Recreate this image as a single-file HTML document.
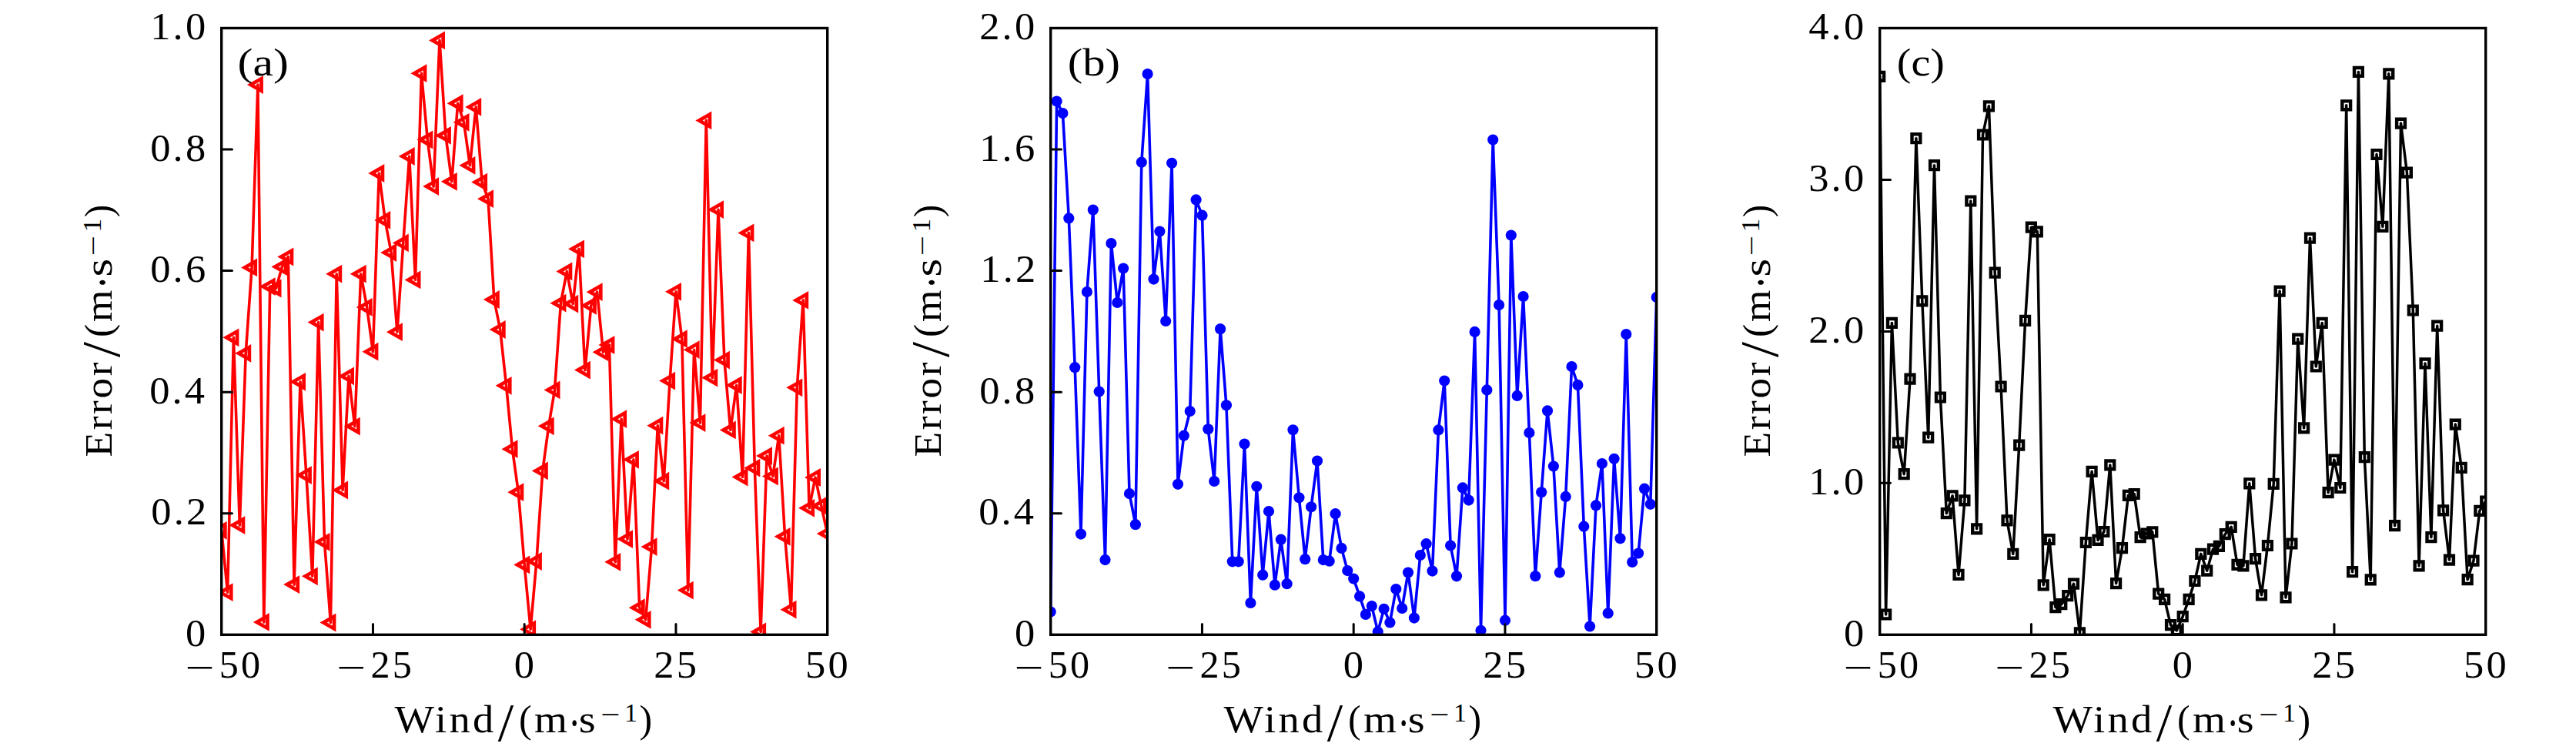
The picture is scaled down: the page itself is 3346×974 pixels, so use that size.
<!DOCTYPE html>
<html><head><meta charset="utf-8"><title>Error vs Wind</title>
<style>html,body{margin:0;padding:0;background:#fff}body{width:3346px;height:974px;overflow:hidden}svg{display:block}</style>
</head><body>
<svg width="3346" height="974" viewBox="0 0 3346 974" font-family='"Liberation Serif", "DejaVu Serif", serif'>
<rect width="3346" height="974" fill="#fff"/>
<defs>
<clipPath id="cp0"><rect x="287.70" y="36.50" width="787.00" height="788.40"/></clipPath>
<clipPath id="cp1"><rect x="1364.70" y="36.50" width="787.00" height="788.40"/></clipPath>
<clipPath id="cp2"><rect x="2441.70" y="36.50" width="787.00" height="788.40"/></clipPath>
<path id="mt" fill-rule="evenodd" d="M-14,0L7,-11.9L7,11.9ZM-4.6,0L2.3,-4L2.3,4Z"/>
<circle id="mc" r="7.1"/>
<path id="ms" fill-rule="evenodd" d="M-7.6,-7.6H7.6V7.6H-7.6ZM-3.2,-3.2H3.2V3.2H-3.2Z"/>
</defs>
<g clip-path="url(#cp0)">
<polyline fill="none" stroke="#ff0000" stroke-width="3.6" stroke-linejoin="round" points="287.7,688.8 295.6,769.2 303.4,438.3 311.3,682.1 319.2,458.8 327.1,347.4 334.9,110.1 342.8,807.9 350.7,372.1 358.5,374.5 366.4,346.4 374.3,333.5 382.1,759.1 390.0,495.8 397.9,617.1 405.8,748.3 413.6,418.6 421.5,703.8 429.4,808.5 437.2,355.7 445.1,636.5 453.0,488.4 460.8,553.6 468.7,355.7 476.6,398.9 484.4,456.7 492.3,225.0 500.2,285.9 508.1,328.0 515.9,431.2 523.8,315.4 531.7,203.0 539.5,363.4 547.4,95.2 555.3,181.5 563.1,242.1 571.0,52.4 578.9,175.9 586.8,235.8 594.6,134.2 602.5,158.8 610.4,214.8 618.2,138.9 626.1,236.6 634.0,258.2 641.8,389.0 649.7,428.0 657.6,500.8 665.5,583.2 673.3,639.2 681.2,733.4 689.1,817.2 696.9,729.0 704.8,611.4 712.7,553.3 720.5,506.4 728.4,393.7 736.3,352.4 744.2,394.6 752.0,323.3 759.9,480.6 767.8,396.8 775.6,379.2 783.5,457.3 791.4,448.0 799.2,729.8 807.1,544.2 815.0,700.1 822.9,596.8 830.7,789.2 838.6,804.8 846.5,710.1 854.3,552.7 862.2,624.7 870.1,494.6 878.0,378.8 885.8,440.2 893.7,766.6 901.6,454.2 909.4,549.1 917.3,156.4 925.2,490.6 933.0,272.2 940.9,467.6 948.8,558.4 956.7,500.2 964.5,619.5 972.4,302.4 980.3,607.7 988.1,820.4 996.0,592.1 1003.9,618.5 1011.7,565.7 1019.6,696.8 1027.5,791.7 1035.3,503.3 1043.2,389.9 1051.1,659.8 1059.0,620.0 1066.8,656.9 1074.7,693.1"/>
<g fill="#ff0000"><use href="#mt" x="287.7" y="688.8"/><use href="#mt" x="295.6" y="769.2"/><use href="#mt" x="303.4" y="438.3"/><use href="#mt" x="311.3" y="682.1"/><use href="#mt" x="319.2" y="458.8"/><use href="#mt" x="327.1" y="347.4"/><use href="#mt" x="334.9" y="110.1"/><use href="#mt" x="342.8" y="807.9"/><use href="#mt" x="350.7" y="372.1"/><use href="#mt" x="358.5" y="374.5"/><use href="#mt" x="366.4" y="346.4"/><use href="#mt" x="374.3" y="333.5"/><use href="#mt" x="382.1" y="759.1"/><use href="#mt" x="390.0" y="495.8"/><use href="#mt" x="397.9" y="617.1"/><use href="#mt" x="405.8" y="748.3"/><use href="#mt" x="413.6" y="418.6"/><use href="#mt" x="421.5" y="703.8"/><use href="#mt" x="429.4" y="808.5"/><use href="#mt" x="437.2" y="355.7"/><use href="#mt" x="445.1" y="636.5"/><use href="#mt" x="453.0" y="488.4"/><use href="#mt" x="460.8" y="553.6"/><use href="#mt" x="468.7" y="355.7"/><use href="#mt" x="476.6" y="398.9"/><use href="#mt" x="484.4" y="456.7"/><use href="#mt" x="492.3" y="225.0"/><use href="#mt" x="500.2" y="285.9"/><use href="#mt" x="508.1" y="328.0"/><use href="#mt" x="515.9" y="431.2"/><use href="#mt" x="523.8" y="315.4"/><use href="#mt" x="531.7" y="203.0"/><use href="#mt" x="539.5" y="363.4"/><use href="#mt" x="547.4" y="95.2"/><use href="#mt" x="555.3" y="181.5"/><use href="#mt" x="563.1" y="242.1"/><use href="#mt" x="571.0" y="52.4"/><use href="#mt" x="578.9" y="175.9"/><use href="#mt" x="586.8" y="235.8"/><use href="#mt" x="594.6" y="134.2"/><use href="#mt" x="602.5" y="158.8"/><use href="#mt" x="610.4" y="214.8"/><use href="#mt" x="618.2" y="138.9"/><use href="#mt" x="626.1" y="236.6"/><use href="#mt" x="634.0" y="258.2"/><use href="#mt" x="641.8" y="389.0"/><use href="#mt" x="649.7" y="428.0"/><use href="#mt" x="657.6" y="500.8"/><use href="#mt" x="665.5" y="583.2"/><use href="#mt" x="673.3" y="639.2"/><use href="#mt" x="681.2" y="733.4"/><use href="#mt" x="689.1" y="817.2"/><use href="#mt" x="696.9" y="729.0"/><use href="#mt" x="704.8" y="611.4"/><use href="#mt" x="712.7" y="553.3"/><use href="#mt" x="720.5" y="506.4"/><use href="#mt" x="728.4" y="393.7"/><use href="#mt" x="736.3" y="352.4"/><use href="#mt" x="744.2" y="394.6"/><use href="#mt" x="752.0" y="323.3"/><use href="#mt" x="759.9" y="480.6"/><use href="#mt" x="767.8" y="396.8"/><use href="#mt" x="775.6" y="379.2"/><use href="#mt" x="783.5" y="457.3"/><use href="#mt" x="791.4" y="448.0"/><use href="#mt" x="799.2" y="729.8"/><use href="#mt" x="807.1" y="544.2"/><use href="#mt" x="815.0" y="700.1"/><use href="#mt" x="822.9" y="596.8"/><use href="#mt" x="830.7" y="789.2"/><use href="#mt" x="838.6" y="804.8"/><use href="#mt" x="846.5" y="710.1"/><use href="#mt" x="854.3" y="552.7"/><use href="#mt" x="862.2" y="624.7"/><use href="#mt" x="870.1" y="494.6"/><use href="#mt" x="878.0" y="378.8"/><use href="#mt" x="885.8" y="440.2"/><use href="#mt" x="893.7" y="766.6"/><use href="#mt" x="901.6" y="454.2"/><use href="#mt" x="909.4" y="549.1"/><use href="#mt" x="917.3" y="156.4"/><use href="#mt" x="925.2" y="490.6"/><use href="#mt" x="933.0" y="272.2"/><use href="#mt" x="940.9" y="467.6"/><use href="#mt" x="948.8" y="558.4"/><use href="#mt" x="956.7" y="500.2"/><use href="#mt" x="964.5" y="619.5"/><use href="#mt" x="972.4" y="302.4"/><use href="#mt" x="980.3" y="607.7"/><use href="#mt" x="988.1" y="820.4"/><use href="#mt" x="996.0" y="592.1"/><use href="#mt" x="1003.9" y="618.5"/><use href="#mt" x="1011.7" y="565.7"/><use href="#mt" x="1019.6" y="696.8"/><use href="#mt" x="1027.5" y="791.7"/><use href="#mt" x="1035.3" y="503.3"/><use href="#mt" x="1043.2" y="389.9"/><use href="#mt" x="1051.1" y="659.8"/><use href="#mt" x="1059.0" y="620.0"/><use href="#mt" x="1066.8" y="656.9"/><use href="#mt" x="1074.7" y="693.1"/></g>
</g>
<rect x="287.70" y="36.50" width="787.00" height="787.80" fill="none" stroke="#000" stroke-width="3.4"/>
<path d="M484.45,824.30V810.50M681.20,824.30V810.50M877.95,824.30V810.50M287.70,666.74H301.50M287.70,509.18H301.50M287.70,351.62H301.50M287.70,194.06H301.50" stroke="#000" stroke-width="3" stroke-linecap="round" fill="none"/>
<g clip-path="url(#cp1)">
<polyline fill="none" stroke="#0000ff" stroke-width="3.6" stroke-linejoin="round" points="1364.7,794.5 1372.6,131.6 1380.4,147.1 1388.3,283.4 1396.2,477.2 1404.0,693.6 1411.9,379.1 1419.8,272.5 1427.7,508.6 1435.5,727.1 1443.4,316.0 1451.3,393.0 1459.1,348.6 1467.0,641.1 1474.9,681.2 1482.8,210.7 1490.6,96.1 1498.5,362.6 1506.4,300.5 1514.2,417.0 1522.1,211.8 1530.0,628.8 1537.8,565.7 1545.7,534.0 1553.6,259.4 1561.5,279.7 1569.3,557.3 1577.2,625.0 1585.1,427.2 1592.9,526.3 1600.8,729.3 1608.7,729.3 1616.5,576.6 1624.4,783.0 1632.3,631.8 1640.2,746.7 1648.0,664.0 1655.9,759.7 1663.8,700.7 1671.6,758.2 1679.5,558.3 1687.4,646.3 1695.2,726.2 1703.1,658.3 1711.0,598.6 1718.8,727.1 1726.7,728.7 1734.6,667.2 1742.5,711.9 1750.3,741.1 1758.2,751.6 1766.1,774.4 1773.9,797.9 1781.8,787.1 1789.7,820.4 1797.6,790.8 1805.4,808.5 1813.3,765.0 1821.2,789.9 1829.0,743.6 1836.9,802.6 1844.8,721.0 1852.6,706.2 1860.5,741.6 1868.4,558.4 1876.2,494.6 1884.1,708.5 1892.0,748.3 1899.9,633.4 1907.7,649.6 1915.6,430.9 1923.5,818.8 1931.3,506.4 1939.2,181.6 1947.1,396.1 1955.0,805.7 1962.8,305.5 1970.7,513.9 1978.6,385.0 1986.4,562.0 1994.3,748.2 2002.2,639.3 2010.0,533.4 2017.9,605.5 2025.8,743.4 2033.7,644.9 2041.5,476.0 2049.4,499.9 2057.3,683.7 2065.1,813.5 2073.0,656.4 2080.9,602.0 2088.7,796.4 2096.6,595.8 2104.5,699.3 2112.3,434.0 2120.2,730.0 2128.1,718.6 2136.0,634.7 2143.8,654.8 2151.7,385.9"/>
<g fill="#0000ff"><use href="#mc" x="1364.7" y="794.5"/><use href="#mc" x="1372.6" y="131.6"/><use href="#mc" x="1380.4" y="147.1"/><use href="#mc" x="1388.3" y="283.4"/><use href="#mc" x="1396.2" y="477.2"/><use href="#mc" x="1404.0" y="693.6"/><use href="#mc" x="1411.9" y="379.1"/><use href="#mc" x="1419.8" y="272.5"/><use href="#mc" x="1427.7" y="508.6"/><use href="#mc" x="1435.5" y="727.1"/><use href="#mc" x="1443.4" y="316.0"/><use href="#mc" x="1451.3" y="393.0"/><use href="#mc" x="1459.1" y="348.6"/><use href="#mc" x="1467.0" y="641.1"/><use href="#mc" x="1474.9" y="681.2"/><use href="#mc" x="1482.8" y="210.7"/><use href="#mc" x="1490.6" y="96.1"/><use href="#mc" x="1498.5" y="362.6"/><use href="#mc" x="1506.4" y="300.5"/><use href="#mc" x="1514.2" y="417.0"/><use href="#mc" x="1522.1" y="211.8"/><use href="#mc" x="1530.0" y="628.8"/><use href="#mc" x="1537.8" y="565.7"/><use href="#mc" x="1545.7" y="534.0"/><use href="#mc" x="1553.6" y="259.4"/><use href="#mc" x="1561.5" y="279.7"/><use href="#mc" x="1569.3" y="557.3"/><use href="#mc" x="1577.2" y="625.0"/><use href="#mc" x="1585.1" y="427.2"/><use href="#mc" x="1592.9" y="526.3"/><use href="#mc" x="1600.8" y="729.3"/><use href="#mc" x="1608.7" y="729.3"/><use href="#mc" x="1616.5" y="576.6"/><use href="#mc" x="1624.4" y="783.0"/><use href="#mc" x="1632.3" y="631.8"/><use href="#mc" x="1640.2" y="746.7"/><use href="#mc" x="1648.0" y="664.0"/><use href="#mc" x="1655.9" y="759.7"/><use href="#mc" x="1663.8" y="700.7"/><use href="#mc" x="1671.6" y="758.2"/><use href="#mc" x="1679.5" y="558.3"/><use href="#mc" x="1687.4" y="646.3"/><use href="#mc" x="1695.2" y="726.2"/><use href="#mc" x="1703.1" y="658.3"/><use href="#mc" x="1711.0" y="598.6"/><use href="#mc" x="1718.8" y="727.1"/><use href="#mc" x="1726.7" y="728.7"/><use href="#mc" x="1734.6" y="667.2"/><use href="#mc" x="1742.5" y="711.9"/><use href="#mc" x="1750.3" y="741.1"/><use href="#mc" x="1758.2" y="751.6"/><use href="#mc" x="1766.1" y="774.4"/><use href="#mc" x="1773.9" y="797.9"/><use href="#mc" x="1781.8" y="787.1"/><use href="#mc" x="1789.7" y="820.4"/><use href="#mc" x="1797.6" y="790.8"/><use href="#mc" x="1805.4" y="808.5"/><use href="#mc" x="1813.3" y="765.0"/><use href="#mc" x="1821.2" y="789.9"/><use href="#mc" x="1829.0" y="743.6"/><use href="#mc" x="1836.9" y="802.6"/><use href="#mc" x="1844.8" y="721.0"/><use href="#mc" x="1852.6" y="706.2"/><use href="#mc" x="1860.5" y="741.6"/><use href="#mc" x="1868.4" y="558.4"/><use href="#mc" x="1876.2" y="494.6"/><use href="#mc" x="1884.1" y="708.5"/><use href="#mc" x="1892.0" y="748.3"/><use href="#mc" x="1899.9" y="633.4"/><use href="#mc" x="1907.7" y="649.6"/><use href="#mc" x="1915.6" y="430.9"/><use href="#mc" x="1923.5" y="818.8"/><use href="#mc" x="1931.3" y="506.4"/><use href="#mc" x="1939.2" y="181.6"/><use href="#mc" x="1947.1" y="396.1"/><use href="#mc" x="1955.0" y="805.7"/><use href="#mc" x="1962.8" y="305.5"/><use href="#mc" x="1970.7" y="513.9"/><use href="#mc" x="1978.6" y="385.0"/><use href="#mc" x="1986.4" y="562.0"/><use href="#mc" x="1994.3" y="748.2"/><use href="#mc" x="2002.2" y="639.3"/><use href="#mc" x="2010.0" y="533.4"/><use href="#mc" x="2017.9" y="605.5"/><use href="#mc" x="2025.8" y="743.4"/><use href="#mc" x="2033.7" y="644.9"/><use href="#mc" x="2041.5" y="476.0"/><use href="#mc" x="2049.4" y="499.9"/><use href="#mc" x="2057.3" y="683.7"/><use href="#mc" x="2065.1" y="813.5"/><use href="#mc" x="2073.0" y="656.4"/><use href="#mc" x="2080.9" y="602.0"/><use href="#mc" x="2088.7" y="796.4"/><use href="#mc" x="2096.6" y="595.8"/><use href="#mc" x="2104.5" y="699.3"/><use href="#mc" x="2112.3" y="434.0"/><use href="#mc" x="2120.2" y="730.0"/><use href="#mc" x="2128.1" y="718.6"/><use href="#mc" x="2136.0" y="634.7"/><use href="#mc" x="2143.8" y="654.8"/><use href="#mc" x="2151.7" y="385.9"/></g>
</g>
<rect x="1364.70" y="36.50" width="787.00" height="787.80" fill="none" stroke="#000" stroke-width="3.4"/>
<path d="M1561.45,824.30V810.50M1758.20,824.30V810.50M1954.95,824.30V810.50M1364.70,666.74H1378.50M1364.70,509.18H1378.50M1364.70,351.62H1378.50M1364.70,194.06H1378.50" stroke="#000" stroke-width="3" stroke-linecap="round" fill="none"/>
<g clip-path="url(#cp2)">
<polyline fill="none" stroke="#000000" stroke-width="3.5" stroke-linejoin="round" points="2441.7,99.3 2449.6,798.0 2457.4,419.4 2465.3,575.0 2473.2,615.7 2481.0,492.1 2488.9,179.7 2496.8,390.9 2504.7,568.2 2512.5,214.7 2520.4,516.0 2528.3,666.6 2536.1,643.8 2544.0,746.4 2551.9,649.9 2559.8,261.0 2567.6,686.8 2575.5,175.0 2583.4,137.8 2591.2,354.2 2599.1,502.0 2607.0,675.9 2614.8,719.4 2622.7,578.1 2630.6,416.3 2638.4,295.2 2646.3,300.8 2654.2,759.8 2662.1,700.7 2669.9,788.6 2677.8,784.6 2685.7,773.7 2693.5,758.2 2701.4,821.9 2709.3,704.5 2717.1,612.3 2725.0,701.4 2732.9,690.5 2740.8,603.9 2748.6,757.6 2756.5,711.6 2764.4,643.3 2772.2,641.5 2780.1,697.6 2788.0,693.0 2795.8,690.8 2803.7,771.2 2811.6,778.4 2819.5,811.6 2827.3,818.8 2835.2,800.7 2843.1,778.4 2850.9,754.5 2858.8,719.4 2866.7,741.1 2874.5,713.2 2882.4,709.4 2890.3,693.6 2898.2,684.3 2906.0,733.3 2913.9,734.9 2921.8,627.8 2929.6,725.6 2937.5,772.8 2945.4,708.5 2953.2,628.4 2961.1,378.1 2969.0,775.9 2976.9,706.0 2984.7,440.2 2992.6,555.8 3000.5,309.2 3008.3,476.0 3016.2,419.4 3024.1,639.6 3031.9,597.1 3039.8,633.5 3047.7,136.8 3055.6,742.7 3063.4,93.4 3071.3,593.7 3079.2,752.9 3087.0,200.5 3094.9,294.3 3102.8,95.8 3110.6,682.7 3118.5,160.1 3126.4,224.1 3134.3,403.0 3142.1,734.9 3150.0,471.9 3157.9,697.6 3165.7,423.2 3173.6,662.8 3181.5,727.1 3189.3,551.1 3197.2,607.3 3205.1,752.6 3213.0,728.1 3220.8,663.4 3228.7,651.0"/>
<g fill="#000000"><use href="#ms" x="2441.7" y="99.3"/><use href="#ms" x="2449.6" y="798.0"/><use href="#ms" x="2457.4" y="419.4"/><use href="#ms" x="2465.3" y="575.0"/><use href="#ms" x="2473.2" y="615.7"/><use href="#ms" x="2481.0" y="492.1"/><use href="#ms" x="2488.9" y="179.7"/><use href="#ms" x="2496.8" y="390.9"/><use href="#ms" x="2504.7" y="568.2"/><use href="#ms" x="2512.5" y="214.7"/><use href="#ms" x="2520.4" y="516.0"/><use href="#ms" x="2528.3" y="666.6"/><use href="#ms" x="2536.1" y="643.8"/><use href="#ms" x="2544.0" y="746.4"/><use href="#ms" x="2551.9" y="649.9"/><use href="#ms" x="2559.8" y="261.0"/><use href="#ms" x="2567.6" y="686.8"/><use href="#ms" x="2575.5" y="175.0"/><use href="#ms" x="2583.4" y="137.8"/><use href="#ms" x="2591.2" y="354.2"/><use href="#ms" x="2599.1" y="502.0"/><use href="#ms" x="2607.0" y="675.9"/><use href="#ms" x="2614.8" y="719.4"/><use href="#ms" x="2622.7" y="578.1"/><use href="#ms" x="2630.6" y="416.3"/><use href="#ms" x="2638.4" y="295.2"/><use href="#ms" x="2646.3" y="300.8"/><use href="#ms" x="2654.2" y="759.8"/><use href="#ms" x="2662.1" y="700.7"/><use href="#ms" x="2669.9" y="788.6"/><use href="#ms" x="2677.8" y="784.6"/><use href="#ms" x="2685.7" y="773.7"/><use href="#ms" x="2693.5" y="758.2"/><use href="#ms" x="2701.4" y="821.9"/><use href="#ms" x="2709.3" y="704.5"/><use href="#ms" x="2717.1" y="612.3"/><use href="#ms" x="2725.0" y="701.4"/><use href="#ms" x="2732.9" y="690.5"/><use href="#ms" x="2740.8" y="603.9"/><use href="#ms" x="2748.6" y="757.6"/><use href="#ms" x="2756.5" y="711.6"/><use href="#ms" x="2764.4" y="643.3"/><use href="#ms" x="2772.2" y="641.5"/><use href="#ms" x="2780.1" y="697.6"/><use href="#ms" x="2788.0" y="693.0"/><use href="#ms" x="2795.8" y="690.8"/><use href="#ms" x="2803.7" y="771.2"/><use href="#ms" x="2811.6" y="778.4"/><use href="#ms" x="2819.5" y="811.6"/><use href="#ms" x="2827.3" y="818.8"/><use href="#ms" x="2835.2" y="800.7"/><use href="#ms" x="2843.1" y="778.4"/><use href="#ms" x="2850.9" y="754.5"/><use href="#ms" x="2858.8" y="719.4"/><use href="#ms" x="2866.7" y="741.1"/><use href="#ms" x="2874.5" y="713.2"/><use href="#ms" x="2882.4" y="709.4"/><use href="#ms" x="2890.3" y="693.6"/><use href="#ms" x="2898.2" y="684.3"/><use href="#ms" x="2906.0" y="733.3"/><use href="#ms" x="2913.9" y="734.9"/><use href="#ms" x="2921.8" y="627.8"/><use href="#ms" x="2929.6" y="725.6"/><use href="#ms" x="2937.5" y="772.8"/><use href="#ms" x="2945.4" y="708.5"/><use href="#ms" x="2953.2" y="628.4"/><use href="#ms" x="2961.1" y="378.1"/><use href="#ms" x="2969.0" y="775.9"/><use href="#ms" x="2976.9" y="706.0"/><use href="#ms" x="2984.7" y="440.2"/><use href="#ms" x="2992.6" y="555.8"/><use href="#ms" x="3000.5" y="309.2"/><use href="#ms" x="3008.3" y="476.0"/><use href="#ms" x="3016.2" y="419.4"/><use href="#ms" x="3024.1" y="639.6"/><use href="#ms" x="3031.9" y="597.1"/><use href="#ms" x="3039.8" y="633.5"/><use href="#ms" x="3047.7" y="136.8"/><use href="#ms" x="3055.6" y="742.7"/><use href="#ms" x="3063.4" y="93.4"/><use href="#ms" x="3071.3" y="593.7"/><use href="#ms" x="3079.2" y="752.9"/><use href="#ms" x="3087.0" y="200.5"/><use href="#ms" x="3094.9" y="294.3"/><use href="#ms" x="3102.8" y="95.8"/><use href="#ms" x="3110.6" y="682.7"/><use href="#ms" x="3118.5" y="160.1"/><use href="#ms" x="3126.4" y="224.1"/><use href="#ms" x="3134.3" y="403.0"/><use href="#ms" x="3142.1" y="734.9"/><use href="#ms" x="3150.0" y="471.9"/><use href="#ms" x="3157.9" y="697.6"/><use href="#ms" x="3165.7" y="423.2"/><use href="#ms" x="3173.6" y="662.8"/><use href="#ms" x="3181.5" y="727.1"/><use href="#ms" x="3189.3" y="551.1"/><use href="#ms" x="3197.2" y="607.3"/><use href="#ms" x="3205.1" y="752.6"/><use href="#ms" x="3213.0" y="728.1"/><use href="#ms" x="3220.8" y="663.4"/><use href="#ms" x="3228.7" y="651.0"/></g>
</g>
<rect x="2441.70" y="36.50" width="787.00" height="787.80" fill="none" stroke="#000" stroke-width="3.4"/>
<path d="M2638.45,824.30V810.50M2835.20,824.30V810.50M3031.95,824.30V810.50M2441.70,627.35H2455.50M2441.70,430.40H2455.50M2441.70,233.45H2455.50" stroke="#000" stroke-width="3" stroke-linecap="round" fill="none"/>
<text transform="translate(240.90,839.00) scale(1.0500,1)" font-size="50" letter-spacing="3.0" fill="#000">0</text>
<text transform="translate(196.27,681.44) scale(1.0500,1)" font-size="50" letter-spacing="3.0" fill="#000">0.2</text>
<text transform="translate(194.17,523.88) scale(1.0500,1)" font-size="50" letter-spacing="3.0" fill="#000">0.4</text>
<text transform="translate(195.22,366.32) scale(1.0500,1)" font-size="50" letter-spacing="3.0" fill="#000">0.6</text>
<text transform="translate(195.22,208.76) scale(1.0500,1)" font-size="50" letter-spacing="3.0" fill="#000">0.8</text>
<text transform="translate(195.22,51.20) scale(1.0500,1)" font-size="50" letter-spacing="3.0" fill="#000">1.0</text>
<text transform="translate(240.30,884.00) scale(1.3500,1)" font-size="50" fill="#000">−</text>
<text transform="translate(284.79,880.00) scale(1.0040,1)" font-size="50" letter-spacing="3.0" fill="#000">50</text>
<text transform="translate(437.05,884.00) scale(1.3500,1)" font-size="50" fill="#000">−</text>
<text transform="translate(481.54,880.00) scale(1.0040,1)" font-size="50" letter-spacing="3.0" fill="#000">25</text>
<text transform="translate(667.78,880.00) scale(1.0500,1)" font-size="50" letter-spacing="3.0" fill="#000">0</text>
<text transform="translate(849.30,880.00) scale(1.0500,1)" font-size="50" letter-spacing="3.0" fill="#000">25</text>
<text transform="translate(1046.05,880.00) scale(1.0500,1)" font-size="50" letter-spacing="3.0" fill="#000">50</text>
<text transform="translate(308.61,97.50) scale(1.1959,1)" font-size="50" fill="#000">(a)</text>
<text transform="translate(512.50,951.40) scale(1.0916,1)" font-size="50" letter-spacing="3.0" fill="#000">Wind</text>
<text transform="translate(646.80,961.60) scale(1.0500,1)" font-size="70" fill="#000">/</text>
<text transform="translate(674.00,951.40) scale(1.0000,1)" font-size="50" fill="#000">(</text>
<text transform="translate(693.89,951.40) scale(1.1053,1)" font-size="50" fill="#000">m</text>
<text transform="translate(738.30,961.40) scale(0.7333,1)" font-size="65" fill="#000">·</text>
<text transform="translate(751.75,951.40) scale(1.1250,1)" font-size="50" fill="#000">s</text>
<text transform="translate(780.22,939.90) scale(1.2778,1)" font-size="35" fill="#000">−</text>
<text transform="translate(811.00,937.20) scale(1.0000,1)" font-size="34" fill="#000">1</text>
<text transform="translate(830.60,951.40) scale(1.0000,1)" font-size="50" fill="#000">)</text>
<text transform="translate(144.70,592.00) rotate(-90) translate(-1.57,0.00) scale(1.0667,1)" font-size="50" letter-spacing="2.5" fill="#000">Error</text>
<text transform="translate(144.70,592.00) rotate(-90) translate(128.00,10.20) scale(1.0250,1)" font-size="70" fill="#000">/</text>
<text transform="translate(144.70,592.00) rotate(-90) translate(153.93,0.00) scale(1.0357,1)" font-size="50" fill="#000">(</text>
<text transform="translate(144.70,592.00) rotate(-90) translate(173.93,0.00) scale(1.0658,1)" font-size="50" fill="#000">m</text>
<text transform="translate(144.70,592.00) rotate(-90) translate(216.83,10.00) scale(0.7778,1)" font-size="65" fill="#000">·</text>
<text transform="translate(144.70,592.00) rotate(-90) translate(232.56,0.00) scale(1.2188,1)" font-size="50" fill="#000">s</text>
<text transform="translate(144.70,592.00) rotate(-90) translate(259.67,-11.50) scale(1.3333,1)" font-size="35" fill="#000">−</text>
<text transform="translate(144.70,592.00) rotate(-90) translate(290.42,-14.20) scale(1.0385,1)" font-size="34" fill="#000">1</text>
<text transform="translate(144.70,592.00) rotate(-90) translate(310.04,0.00) scale(0.9643,1)" font-size="50" fill="#000">)</text>
<text transform="translate(1317.90,839.00) scale(1.0500,1)" font-size="50" letter-spacing="3.0" fill="#000">0</text>
<text transform="translate(1271.18,681.44) scale(1.0500,1)" font-size="50" letter-spacing="3.0" fill="#000">0.4</text>
<text transform="translate(1272.23,523.88) scale(1.0500,1)" font-size="50" letter-spacing="3.0" fill="#000">0.8</text>
<text transform="translate(1273.28,366.32) scale(1.0500,1)" font-size="50" letter-spacing="3.0" fill="#000">1.2</text>
<text transform="translate(1272.23,208.76) scale(1.0500,1)" font-size="50" letter-spacing="3.0" fill="#000">1.6</text>
<text transform="translate(1272.23,51.20) scale(1.0500,1)" font-size="50" letter-spacing="3.0" fill="#000">2.0</text>
<text transform="translate(1317.30,884.00) scale(1.3500,1)" font-size="50" fill="#000">−</text>
<text transform="translate(1361.79,880.00) scale(1.0040,1)" font-size="50" letter-spacing="3.0" fill="#000">50</text>
<text transform="translate(1514.05,884.00) scale(1.3500,1)" font-size="50" fill="#000">−</text>
<text transform="translate(1558.54,880.00) scale(1.0040,1)" font-size="50" letter-spacing="3.0" fill="#000">25</text>
<text transform="translate(1744.78,880.00) scale(1.0500,1)" font-size="50" letter-spacing="3.0" fill="#000">0</text>
<text transform="translate(1926.30,880.00) scale(1.0500,1)" font-size="50" letter-spacing="3.0" fill="#000">25</text>
<text transform="translate(2123.05,880.00) scale(1.0500,1)" font-size="50" letter-spacing="3.0" fill="#000">50</text>
<text transform="translate(1386.66,97.50) scale(1.1711,1)" font-size="50" fill="#000">(b)</text>
<text transform="translate(1589.50,951.40) scale(1.0916,1)" font-size="50" letter-spacing="3.0" fill="#000">Wind</text>
<text transform="translate(1723.80,961.60) scale(1.0500,1)" font-size="70" fill="#000">/</text>
<text transform="translate(1751.00,951.40) scale(1.0000,1)" font-size="50" fill="#000">(</text>
<text transform="translate(1770.89,951.40) scale(1.1053,1)" font-size="50" fill="#000">m</text>
<text transform="translate(1815.30,961.40) scale(0.7333,1)" font-size="65" fill="#000">·</text>
<text transform="translate(1828.75,951.40) scale(1.1250,1)" font-size="50" fill="#000">s</text>
<text transform="translate(1857.22,939.90) scale(1.2778,1)" font-size="35" fill="#000">−</text>
<text transform="translate(1888.00,937.20) scale(1.0000,1)" font-size="34" fill="#000">1</text>
<text transform="translate(1907.60,951.40) scale(1.0000,1)" font-size="50" fill="#000">)</text>
<text transform="translate(1221.70,592.00) rotate(-90) translate(-1.57,0.00) scale(1.0667,1)" font-size="50" letter-spacing="2.5" fill="#000">Error</text>
<text transform="translate(1221.70,592.00) rotate(-90) translate(128.00,10.20) scale(1.0250,1)" font-size="70" fill="#000">/</text>
<text transform="translate(1221.70,592.00) rotate(-90) translate(153.93,0.00) scale(1.0357,1)" font-size="50" fill="#000">(</text>
<text transform="translate(1221.70,592.00) rotate(-90) translate(173.93,0.00) scale(1.0658,1)" font-size="50" fill="#000">m</text>
<text transform="translate(1221.70,592.00) rotate(-90) translate(216.83,10.00) scale(0.7778,1)" font-size="65" fill="#000">·</text>
<text transform="translate(1221.70,592.00) rotate(-90) translate(232.56,0.00) scale(1.2188,1)" font-size="50" fill="#000">s</text>
<text transform="translate(1221.70,592.00) rotate(-90) translate(259.67,-11.50) scale(1.3333,1)" font-size="35" fill="#000">−</text>
<text transform="translate(1221.70,592.00) rotate(-90) translate(290.42,-14.20) scale(1.0385,1)" font-size="34" fill="#000">1</text>
<text transform="translate(1221.70,592.00) rotate(-90) translate(310.04,0.00) scale(0.9643,1)" font-size="50" fill="#000">)</text>
<text transform="translate(2394.90,839.00) scale(1.0500,1)" font-size="50" letter-spacing="3.0" fill="#000">0</text>
<text transform="translate(2349.22,642.05) scale(1.0500,1)" font-size="50" letter-spacing="3.0" fill="#000">1.0</text>
<text transform="translate(2349.22,445.10) scale(1.0500,1)" font-size="50" letter-spacing="3.0" fill="#000">2.0</text>
<text transform="translate(2349.22,248.15) scale(1.0500,1)" font-size="50" letter-spacing="3.0" fill="#000">3.0</text>
<text transform="translate(2349.22,51.20) scale(1.0500,1)" font-size="50" letter-spacing="3.0" fill="#000">4.0</text>
<text transform="translate(2394.30,884.00) scale(1.3500,1)" font-size="50" fill="#000">−</text>
<text transform="translate(2438.79,880.00) scale(1.0040,1)" font-size="50" letter-spacing="3.0" fill="#000">50</text>
<text transform="translate(2591.05,884.00) scale(1.3500,1)" font-size="50" fill="#000">−</text>
<text transform="translate(2635.54,880.00) scale(1.0040,1)" font-size="50" letter-spacing="3.0" fill="#000">25</text>
<text transform="translate(2821.77,880.00) scale(1.0500,1)" font-size="50" letter-spacing="3.0" fill="#000">0</text>
<text transform="translate(3003.30,880.00) scale(1.0500,1)" font-size="50" letter-spacing="3.0" fill="#000">25</text>
<text transform="translate(3200.05,880.00) scale(1.0500,1)" font-size="50" letter-spacing="3.0" fill="#000">50</text>
<text transform="translate(2463.76,97.50) scale(1.1188,1)" font-size="50" fill="#000">(c)</text>
<text transform="translate(2666.50,951.40) scale(1.0916,1)" font-size="50" letter-spacing="3.0" fill="#000">Wind</text>
<text transform="translate(2800.80,961.60) scale(1.0500,1)" font-size="70" fill="#000">/</text>
<text transform="translate(2828.00,951.40) scale(1.0000,1)" font-size="50" fill="#000">(</text>
<text transform="translate(2847.89,951.40) scale(1.1053,1)" font-size="50" fill="#000">m</text>
<text transform="translate(2892.30,961.40) scale(0.7333,1)" font-size="65" fill="#000">·</text>
<text transform="translate(2905.75,951.40) scale(1.1250,1)" font-size="50" fill="#000">s</text>
<text transform="translate(2934.22,939.90) scale(1.2778,1)" font-size="35" fill="#000">−</text>
<text transform="translate(2965.00,937.20) scale(1.0000,1)" font-size="34" fill="#000">1</text>
<text transform="translate(2984.60,951.40) scale(1.0000,1)" font-size="50" fill="#000">)</text>
<text transform="translate(2298.70,592.00) rotate(-90) translate(-1.57,0.00) scale(1.0667,1)" font-size="50" letter-spacing="2.5" fill="#000">Error</text>
<text transform="translate(2298.70,592.00) rotate(-90) translate(128.00,10.20) scale(1.0250,1)" font-size="70" fill="#000">/</text>
<text transform="translate(2298.70,592.00) rotate(-90) translate(153.93,0.00) scale(1.0357,1)" font-size="50" fill="#000">(</text>
<text transform="translate(2298.70,592.00) rotate(-90) translate(173.93,0.00) scale(1.0658,1)" font-size="50" fill="#000">m</text>
<text transform="translate(2298.70,592.00) rotate(-90) translate(216.83,10.00) scale(0.7778,1)" font-size="65" fill="#000">·</text>
<text transform="translate(2298.70,592.00) rotate(-90) translate(232.56,0.00) scale(1.2188,1)" font-size="50" fill="#000">s</text>
<text transform="translate(2298.70,592.00) rotate(-90) translate(259.67,-11.50) scale(1.3333,1)" font-size="35" fill="#000">−</text>
<text transform="translate(2298.70,592.00) rotate(-90) translate(290.42,-14.20) scale(1.0385,1)" font-size="34" fill="#000">1</text>
<text transform="translate(2298.70,592.00) rotate(-90) translate(310.04,0.00) scale(0.9643,1)" font-size="50" fill="#000">)</text>
</svg>
</body></html>
